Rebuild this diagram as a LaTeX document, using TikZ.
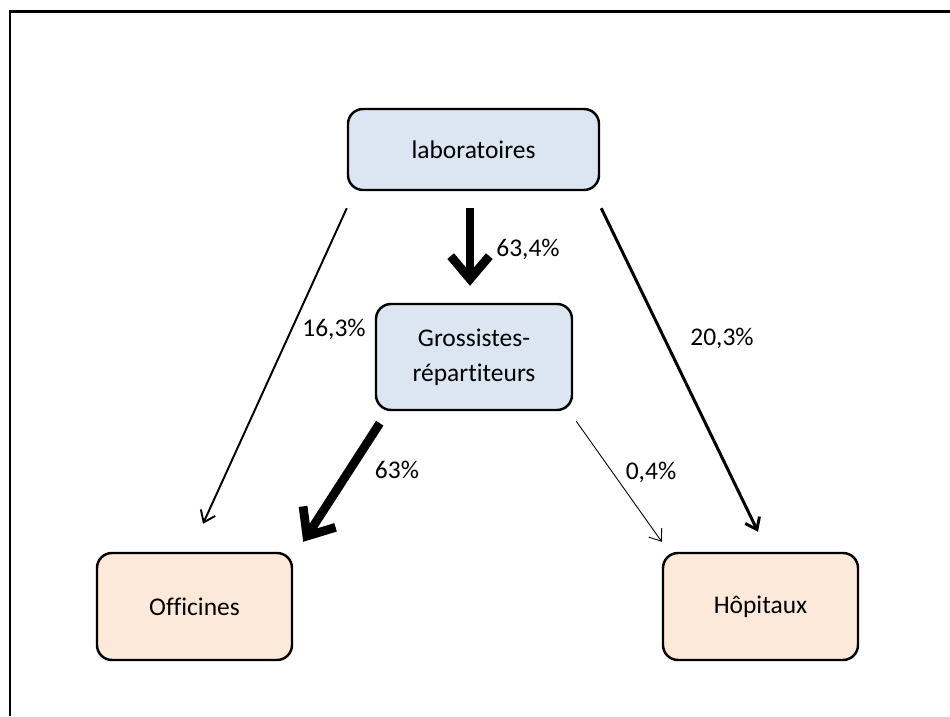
\documentclass[tikz,border=0pt]{standalone}
\usepackage{fontspec}
\setmainfont{Carlito}[Ligatures=NoCommon]
\usetikzlibrary{arrows.meta}

\definecolor{boxblue}{RGB}{220,230,242}
\definecolor{boxpeach}{RGB}{253,233,217}

\tikzset{
  actor/.style={draw, line width=1.4pt, rounded corners=0.3cm, align=center,
    font=\fontsize{14.5}{20}\selectfont, inner sep=0pt},
  flow/.style={-{Straight Barb[length=6pt,width=9pt]}},
  bigflow/.style={line width=5pt, -{Straight Barb[length=13pt,width=22pt]}},
  pct/.style={font=\fontsize{14.5}{17}\selectfont}
}

\begin{document}
\begin{tikzpicture}
  \useasboundingbox (0,0) rectangle (19,14.32);
  \draw[line width=1.7pt] (19,14.09) -- (0.2,14.09) -- (0.2,0);
  \node[actor, fill=boxblue, minimum width=5.02cm, minimum height=1.62cm] (labo) at (9.47,11.33) {laboratoires};
  \node[actor, fill=boxblue, minimum width=3.92cm, minimum height=2.12cm] (gross) at (9.48,7.18) {Grossistes-\\répartiteurs};
  \node[actor, fill=boxpeach, minimum width=3.9cm, minimum height=2.14cm] (offi) at (3.89,2.19) {Officines};
  \node[actor, fill=boxpeach, minimum width=3.9cm, minimum height=2.14cm] (hopi) at (15.21,2.19) {Hôpitaux};
  \draw[flow, line width=1.1pt] ([yshift=-0.34cm]labo.south west) -- ([shift={(0.17,0.56)}]offi.north);
  \draw[bigflow] ([shift={(-0.07,-0.34)}]labo.south) -- ([shift={(-0.08,0.34)}]gross.north);
  \draw[flow, line width=1.7pt] ([shift={(0.02,-0.34)}]labo.south east) -- ([shift={(-0.05,0.40)}]hopi.north);
  \draw[bigflow] ([shift={(0.10,-0.24)}]gross.south west) -- ([shift={(0.20,0.20)}]offi.north east);
  \draw[flow, line width=0.5pt] ([shift={(0.06,-0.20)}]gross.south east) -- ([shift={(0,0.20)}]hopi.north west);
  \node[pct] (p634) at (10.56,9.34) {63,4\%};
  \node[pct] (p163) at (6.68,7.74) {16,3\%};
  \node[pct] (p203) at (14.44,7.56) {20,3\%};
  \node[pct] (p63) at (7.94,4.92) {63\%};
  \node[pct] (p04) at (13.02,4.88) {0,4\%};
\end{tikzpicture}
\end{document}
